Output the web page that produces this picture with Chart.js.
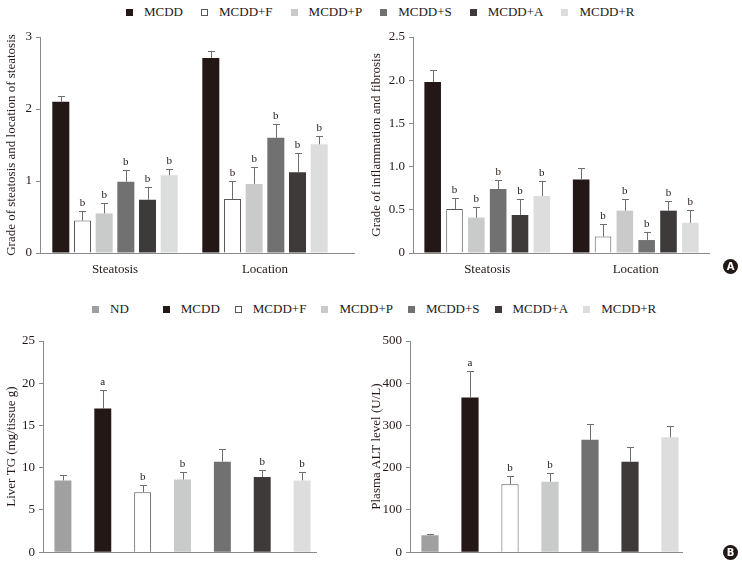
<!DOCTYPE html>
<html>
<head>
<meta charset="utf-8">
<script src="https://cdn.jsdelivr.net/npm/chart.js@4.4.1/dist/chart.umd.min.js"></script>
<style>
  body { margin: 0; background: #fff; }
  #page { position: relative; width: 742px; height: 564px; overflow: hidden;
          font-family: 'Liberation Serif', 'DejaVu Serif', serif; color: #231815; }
  canvas { position: absolute; }
  .legend { position: absolute; display: flex; align-items: center; font-size: 13px;
            line-height: 16px; white-space: nowrap; }
  .legend .item { display: flex; align-items: center; margin-right: 15px; }
  #legendTop .item { margin-right: 18px; }
  .legend .sw { width: 7px; height: 7px; box-sizing: border-box; margin-right: 11px; }
  .badge { position: absolute; width: 15px; height: 15px; border-radius: 50%; background: #231815;
           color: #fff; font: bold 10px 'DejaVu Sans', sans-serif; text-align: center; line-height: 15px; }
</style>
</head>
<body>
<div id="page">
  <div id="legendTop" class="legend" style="left:126px;top:4px"></div>
  <div id="legendBottom" class="legend" style="left:92px;top:301px"></div>
  <canvas id="steatosisChart" width="366" height="270" style="left:0;top:20px"></canvas>
  <canvas id="inflammationChart" width="376" height="270" style="left:366px;top:20px"></canvas>
  <canvas id="tgChart" width="366" height="244" style="left:0;top:320px"></canvas>
  <canvas id="altChart" width="376" height="244" style="left:366px;top:320px"></canvas>
  <div class="badge" style="left:723px;top:259px">A</div>
  <div class="badge" style="left:723px;top:545px">B</div>
</div>
<script>
// groups and categories
const topGroups = ['MCDD', 'MCDD+F', 'MCDD+P', 'MCDD+S', 'MCDD+A', 'MCDD+R'];
const bottomGroups = ['ND', 'MCDD', 'MCDD+F', 'MCDD+P', 'MCDD+S', 'MCDD+A', 'MCDD+R'];
const histCategories = ['Steatosis', 'Location'];

// A left: grade of steatosis and location, one row per group [Steatosis, Location]
const steatosisMean = [[2.10, 2.71], [0.45, 0.75], [0.55, 0.96], [0.99, 1.60], [0.74, 1.12], [1.08, 1.51]];
const steatosisErr = [[0.08, 0.09], [0.14, 0.25], [0.15, 0.23], [0.16, 0.19], [0.18, 0.27], [0.09, 0.12]];
const steatosisMarks = [['', ''], ['b', 'b'], ['b', 'b'], ['b', 'b'], ['b', 'b'], ['b', 'b']];
const steatosisTicks = [0, 1, 2, 3];
const steatosisTickLabels = ['0', '1', '2', '3'];

// A right: grade of inflammation and fibrosis
const inflamMean = [[1.98, 0.85], [0.51, 0.19], [0.41, 0.49], [0.74, 0.15], [0.44, 0.49], [0.66, 0.35]];
const inflamErr = [[0.14, 0.13], [0.13, 0.14], [0.12, 0.13], [0.10, 0.09], [0.18, 0.11], [0.17, 0.15]];
const inflamMarks = [['', ''], ['b', 'b'], ['b', 'b'], ['b', 'b'], ['b', 'b'], ['b', 'b']];
const inflamTicks = [0, 0.5, 1.0, 1.5, 2.0, 2.5];
const inflamTickLabels = ['0', '0.5', '1.0', '1.5', '2.0', '2.5'];

// B left: liver TG (mg/tissue g)
const tgMean = [8.5, 17.0, 7.1, 8.6, 10.7, 8.9, 8.5];
const tgErr = [0.6, 2.2, 0.9, 0.9, 1.5, 0.8, 1.0];
const tgMarks = ['', 'a', 'b', 'b', '', 'b', 'b'];
const tgTicks = [0, 5, 10, 15, 20, 25];
const tgTickLabels = ['0', '5', '10', '15', '20', '25'];

// B right: plasma ALT level (U/L)
const altMean = [40, 366, 161, 167, 266, 214, 272];
const altErr = [3, 62, 19, 21, 37, 35, 27];
const altMarks = ['', 'a', 'b', 'b', '', '', ''];
const altTicks = [0, 100, 200, 300, 400, 500];
const altTickLabels = ['0', '100', '200', '300', '400', '500'];

const groupColors = {
  'ND': '#9fa0a0', 'MCDD': '#231815', 'MCDD+F': '#ffffff', 'MCDD+P': '#c9caca',
  'MCDD+S': '#727171', 'MCDD+A': '#3e3a39', 'MCDD+R': '#dcdddd'
};
const outline = '#595757';
const ink = '#231815';
const axisGray = '#898989';
const serif = "'Liberation Serif', 'DejaVu Serif', serif";
const font = { family: serif, size: 13 };

function buildLegend(el, groups, extraAfterFirst) {
  groups.forEach((g, i) => {
    const item = document.createElement('div');
    item.className = 'item';
    if (i === 0 && extraAfterFirst) item.style.marginRight = extraAfterFirst + 'px';
    const sw = document.createElement('span');
    sw.className = 'sw';
    sw.style.background = groupColors[g];
    if (g === 'MCDD+F') sw.style.border = '1px solid ' + outline;
    const label = document.createElement('span');
    label.textContent = g;
    item.appendChild(sw);
    item.appendChild(label);
    el.appendChild(item);
  });
}
buildLegend(document.getElementById('legendTop'), topGroups);
buildLegend(document.getElementById('legendBottom'), bottomGroups, 34);

const errorBars = {
  id: 'errorBars',
  afterDatasetsDraw(chart, args, opts) {
    const { ctx, chartArea, scales: { y } } = chart;
    ctx.save();
    ctx.lineWidth = 1;
    ctx.strokeStyle = axisGray;
    const by = Math.round(chartArea.bottom) + 0.5;
    ctx.beginPath();
    ctx.moveTo(chartArea.left, by);
    ctx.lineTo(chartArea.right + (opts.extend || 0), by);
    ctx.stroke();
    chart.data.datasets.forEach((ds, i) => {
      chart.getDatasetMeta(i).data.forEach((bar, j) => {
        const yTop = Math.round(y.getPixelForValue(ds.data[j] + ds.errors[j])) + 0.5;
        const x = Math.round(bar.x) + 0.5;
        ctx.strokeStyle = '#6f6d6d';
        ctx.beginPath();
        ctx.moveTo(x, bar.y);
        ctx.lineTo(x, yTop);
        ctx.moveTo(x - 3.5, yTop);
        ctx.lineTo(x + 3.5, yTop);
        ctx.stroke();
        const mark = ds.marks[j];
        if (mark) {
          ctx.fillStyle = ink;
          ctx.font = '11px ' + serif;
          ctx.textAlign = 'center';
          ctx.textBaseline = 'alphabetic';
          ctx.fillText(mark, bar.x, yTop - 6);
        }
      });
    });
    ctx.restore();
  }
};

function yScale(width, ticks, labels, title, titlePad) {
  return {
    min: ticks[0],
    max: ticks[ticks.length - 1],
    afterFit: s => { s.width = width; },
    afterBuildTicks: s => { s.ticks = ticks.map(v => ({ value: v })); },
    border: { color: axisGray, width: 1 },
    grid: { drawOnChartArea: false, drawTicks: true, tickLength: 4, color: axisGray },
    ticks: { font, color: ink, padding: 4, callback: (v, i) => labels[i] },
    title: { display: true, text: title, font, color: ink, padding: { top: titlePad, bottom: 0 } }
  };
}

function xScale(height, showLabels) {
  return {
    afterFit: s => { s.height = height; },
    border: { display: false },
    grid: { display: false, drawTicks: false },
    ticks: { display: showLabels, font, color: ink, padding: 9, maxRotation: 0, autoSkip: false }
  };
}

function groupedChart(id, means, errs, marks, ticks, labels, title, o) {
  new Chart(document.getElementById(id), {
    type: 'bar',
    data: {
      labels: histCategories,
      datasets: topGroups.map((g, i) => ({
        label: g,
        data: means[i],
        errors: errs[i],
        marks: marks[i],
        backgroundColor: groupColors[g],
        borderColor: outline,
        borderWidth: g === 'MCDD+F' ? 1 : 0,
        categoryPercentage: o.catPct,
        barPercentage: o.barPct
      }))
    },
    options: {
      responsive: false,
      animation: false,
      layout: { padding: { top: o.top, right: o.right, bottom: 0, left: 0 } },
      plugins: { legend: { display: false }, tooltip: { enabled: false }, errorBars: { extend: o.extend } },
      scales: { x: xScale(o.xHeight, true), y: yScale(o.yWidth, ticks, labels, title, o.titlePad) }
    },
    plugins: [errorBars]
  });
}

function singleChart(id, means, errs, marks, ticks, labels, title, o) {
  new Chart(document.getElementById(id), {
    type: 'bar',
    data: {
      labels: bottomGroups,
      datasets: [{
        data: means,
        errors: errs,
        marks: marks,
        backgroundColor: bottomGroups.map(g => groupColors[g]),
        borderColor: outline,
        borderWidth: bottomGroups.map(g => g === 'MCDD+F' ? 1 : 0),
        categoryPercentage: 1,
        barPercentage: o.barPct
      }]
    },
    options: {
      responsive: false,
      animation: false,
      layout: { padding: { top: o.top, right: o.right, bottom: 0, left: 0 } },
      plugins: { legend: { display: false }, tooltip: { enabled: false }, errorBars: { extend: o.extend } },
      scales: { x: xScale(o.xHeight, false), y: yScale(o.yWidth, ticks, labels, title, o.titlePad) }
    },
    plugins: [errorBars]
  });
}

groupedChart('steatosisChart', steatosisMean, steatosisErr, steatosisMarks, steatosisTicks, steatosisTickLabels,
  'Grade of steatosis and location of steatosis',
  { top: 17, right: 26, xHeight: 37, yWidth: 40, titlePad: 4, catPct: 0.867, barPct: 0.785, extend: 15 });

groupedChart('inflammationChart', inflamMean, inflamErr, inflamMarks, inflamTicks, inflamTickLabels,
  'Grade of inflammation and fibrosis',
  { top: 17, right: 32, xHeight: 37, yWidth: 47, titlePad: 3, catPct: 0.882, barPct: 0.76, extend: 0 });

singleChart('tgChart', tgMean, tgErr, tgMarks, tgTicks, tgTickLabels, 'Liver TG (mg/tissue g)',
  { top: 21, right: 44, xHeight: 7, yWidth: 43, titlePad: 4, barPct: 0.425, extend: -5 });

singleChart('altChart', altMean, altErr, altMarks, altTicks, altTickLabels, 'Plasma ALT level (U/L)',
  { top: 21, right: 52, xHeight: 7, yWidth: 44, titlePad: 3, barPct: 0.43, extend: -7 });
</script>
</body>
</html>
